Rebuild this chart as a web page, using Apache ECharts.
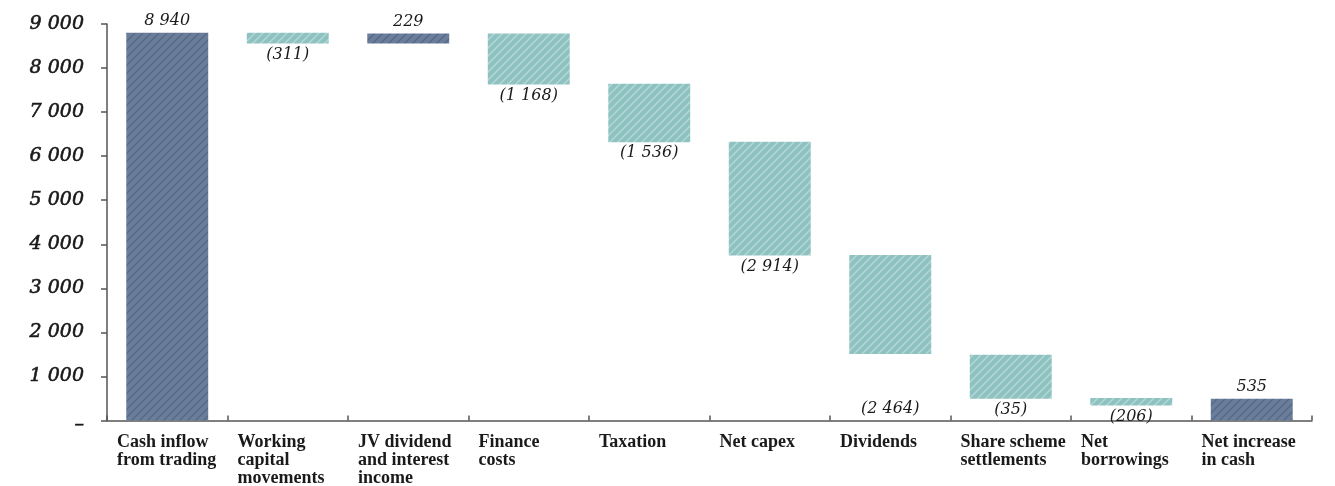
<!DOCTYPE html>
<html>
<head>
<meta charset="utf-8">
<script src="https://cdn.jsdelivr.net/npm/echarts@6/dist/echarts.min.js"></script>
<style>
html,body{margin:0;padding:0;background:#fff;}
#chart{width:1335px;height:486px;}
</style>
</head>
<body>
<div id="chart"></div>
<script>
// ---- data ----
var categories = ['Cash inflow\nfrom trading', 'Working\ncapital\nmovements', 'JV dividend\nand interest\nincome', 'Finance\ncosts', 'Taxation', 'Net capex', 'Dividends', 'Share scheme\nsettlements', 'Net\nborrowings', 'Net increase\nin cash'];
var amounts = [8940, -311, 229, -1168, -1536, -2914, -2464, -35, -206, 535];
// bar extents as drawn in the reference
var barBase = [0, 8560, 8560, 7625, 6315, 3745, 1510, 495, 340, 0];
var barTop  = [8800, 8800, 8785, 8785, 7645, 6330, 3755, 1490, 510, 495];
var yTicks = [0, 1000, 2000, 3000, 4000, 5000, 6000, 7000, 8000, 9000];

function fmt(v) {
  var s = String(Math.abs(v)).replace(/\B(?=(\d{3})+(?!\d))/g, ' ');
  return v < 0 ? '(' + s + ')' : s;
}

function hatch(bg, fg) {
  var s = 8;
  var c = document.createElement('canvas');
  c.width = s; c.height = s;
  var ctx = c.getContext('2d');
  ctx.fillStyle = bg; ctx.fillRect(0, 0, s, s);
  ctx.strokeStyle = fg; ctx.lineWidth = 1.4;
  ctx.beginPath();
  ctx.moveTo(-1, s + 1); ctx.lineTo(s + 1, -1);
  ctx.moveTo(-1 - s, s + 1); ctx.lineTo(1, -1);
  ctx.moveTo(s - 1, s + 1); ctx.lineTo(2 * s + 1, -1);
  ctx.stroke();
  return {image: c, repeat: 'repeat'};
}
var darkFill = hatch('#6b7e99', '#56688a');
var tealFill = hatch('#8ec2c1', '#b4d8d7');

var labelExtra = {6: 44};

var chart = echarts.init(document.getElementById('chart'));
var serif = "'DejaVu Serif', serif";
var ink = '#1a1a1a';

var visible = amounts.map(function (a, i) {
  var pos = a >= 0;
  return {
    value: barTop[i] - barBase[i],
    itemStyle: {color: pos ? darkFill : tealFill},
    label: {
      show: true,
      position: pos ? 'top' : 'bottom',
      distance: pos ? 4 : 3 + (labelExtra[i] || 0),
      formatter: fmt(a),
      fontFamily: serif, fontStyle: 'italic', fontSize: 16, color: ink
    }
  };
});

var option = {
  animation: false,
  grid: {left: 107, right: 23, top: 24, bottom: 65.5, containLabel: false, outerBoundsMode: 'none'},
  xAxis: [{
    type: 'category',
    data: categories,
    position: 'bottom',
    axisLine: {lineStyle: {color: '#555', width: 1.5}},
    axisTick: {show: true, inside: true, length: 5, lineStyle: {color: '#555', width: 1.5}},
    axisLabel: {show: false}
  }, {
    type: 'category',
    data: categories.concat(['']),
    position: 'bottom',
    boundaryGap: false,
    axisLine: {show: false},
    axisTick: {show: false},
    axisLabel: {
      show: true, interval: 0, align: 'left', margin: 13,
      formatter: function (v) {
        return v.split('\n').map(function (l) { return '{a|' + l + '}'; }).join('\n');
      },
      rich: {a: {fontFamily: "'Liberation Serif', serif", fontWeight: 'bold', fontSize: 18, lineHeight: 18, color: ink, padding: [0, 0, 0, 10]}}
    }
  }],
  yAxis: {
    type: 'value', min: 0, max: 9000, interval: 1000,
    splitLine: {show: false},
    axisLine: {show: true, lineStyle: {color: '#555', width: 1.5}},
    axisTick: {show: true, length: 6, lineStyle: {color: '#555', width: 1.5}},
    axisLabel: {
      margin: 23,
      fontFamily: serif, fontStyle: 'italic', fontSize: 19, color: ink,
      textBorderColor: ink, textBorderWidth: 0.6,
      formatter: function (v) { return v === 0 ? '{z|–}' : fmt(v); },
      rich: {z: {fontFamily: serif, fontSize: 19, color: ink, padding: [10, 0, 0, 0]}}
    }
  },
  series: [{
    type: 'bar', stack: 'w', xAxisIndex: 0,
    data: barBase,
    itemStyle: {color: 'transparent'},
    barWidth: '68%',
    silent: true
  }, {
    type: 'bar', stack: 'w', xAxisIndex: 0,
    data: visible,
    barWidth: '68%'
  }]
};
chart.setOption(option);
</script>
</body>
</html>
